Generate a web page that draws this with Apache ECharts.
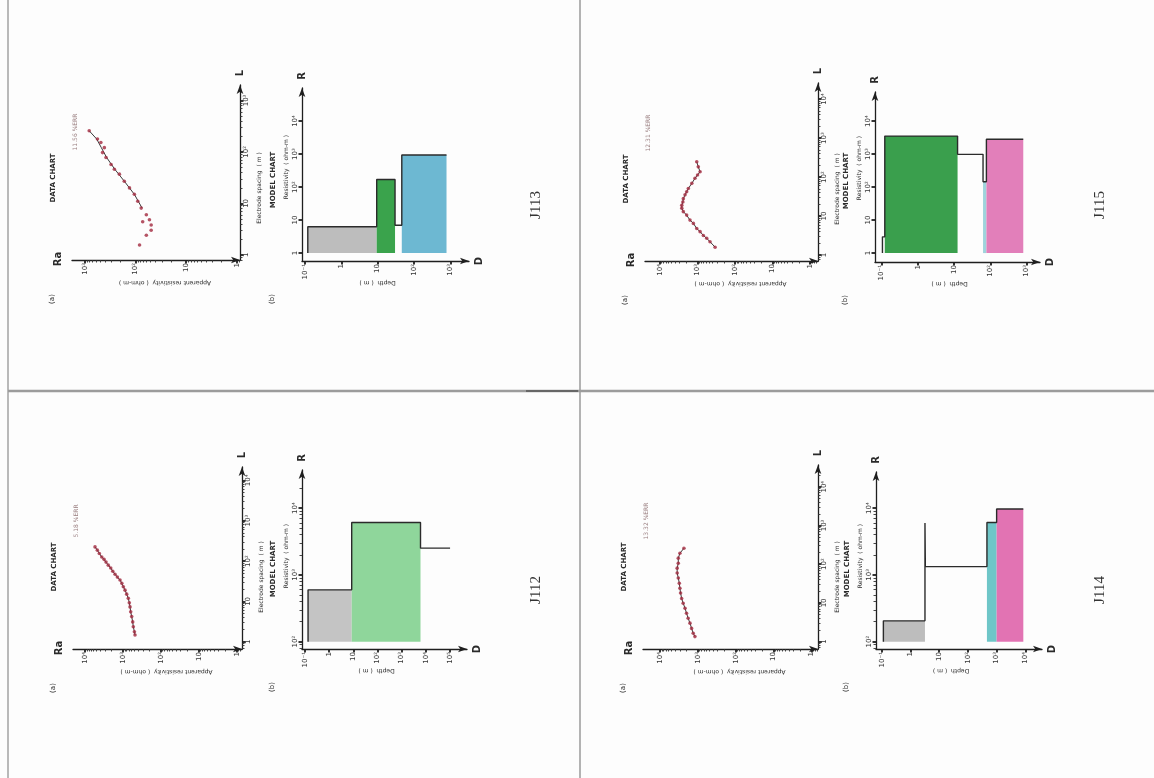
<!DOCTYPE html>
<html>
<head>
<meta charset="utf-8">
<title>Resistivity soundings J112–J115</title>
<script src="https://cdn.jsdelivr.net/npm/echarts@6/dist/echarts.min.js"></script>
<style>
  html, body { margin: 0; padding: 0; background: #fdfdfd; }
  #chart { width: 1154px; height: 778px; }
</style>
</head>
<body>
<div id="chart"></div>
<script>
// ---- Sounding data: electrode spacing L (m) and apparent resistivity Ra (ohm-m) ----
const j113SpacingL   = [1.55, 2.4, 3.0, 3.8, 4.4, 4.8, 6.0, 8.1, 11, 15, 20, 27, 37, 46, 57, 78, 97, 121, 152, 178, 257];
const j113ApparentRa = [83, 61, 49, 49, 72, 53, 61, 77, 90, 105, 131, 166, 207, 260, 302, 380, 445, 410, 480, 560, 815];
const j113FitL  = [8.1, 15, 27, 46, 78, 121, 178, 257];
const j113FitRa = [74, 105, 166, 255, 370, 470, 580, 815];

const j115SpacingL   = [1.6, 2.2, 2.7, 3.2, 4.0, 4.8, 6.5, 7.9, 10.6, 13, 16, 19, 23, 28, 35, 42, 51, 69, 93, 113, 137, 183, 247];
const j115ApparentRa = [340, 465, 570, 700, 855, 1050, 1290, 1590, 1950, 2390, 2630, 2630, 2460, 2390, 2150, 1950, 1760, 1420, 1170, 1000, 855, 955, 1050];

const j112SpacingL   = [1.47, 1.77, 2.35, 3.1, 4.2, 5.5, 7.3, 9.2, 11.9, 15.1, 19, 23, 28, 34, 40, 47, 56, 67, 79, 94, 110, 126, 154, 186, 224];
const j112ApparentRa = [482, 500, 535, 555, 590, 627, 653, 682, 725, 800, 885, 980, 1075, 1200, 1410, 1625, 1865, 2110, 2450, 2810, 3170, 3640, 4220, 4760, 5480];

const j114SpacingL   = [1.35, 1.65, 2.2, 3.0, 4.0, 5.4, 7.3, 9.8, 13, 18, 24, 32, 44, 59, 79, 106, 143, 192, 258];
const j114ApparentRa = [1200, 1330, 1470, 1620, 1810, 2000, 2190, 2450, 2690, 2870, 2990, 3100, 3300, 3530, 3530, 3300, 3300, 2990, 2340];

// ---- Layered models: layer boundaries (m), layer resistivity (ohm-m), layer fill ----
const j113LayerDepth = [0.12, 9.4, 30, 46, 780];
const j113LayerRes   = [6.3, 170, 7, 930];
const j113LayerFill  = ['#bdbdbd', '#3aa34c', null, '#6db8d2'];

const j115LayerDepth = [0.106, 0.123, 12.5, 63, 78, 810];
const j115LayerRes   = [3.1, 3500, 980, 145, 2800];
const j115LayerFill  = [null, '#3a9f4d', null, '#9fd4dc', '#e27fba'];

const j112LayerDepth = [0.135, 8.6, 6000, 100000];
const j112LayerRes   = [596, 6080, 2510];
const j112LayerFill  = ['#c4c4c4', '#8fd69b', null];

const j114LayerDepth = [0.114, 3.2, 3.3, 460, 1000, 8500];
const j114LayerRes   = [205, 6000, 1330, 6080, 9700];
const j114LayerFill  = ['#bdbdbd', null, null, '#6fc6c8', '#e273b3'];

// ---- Text ----
const panelNames = ['J113', 'J115', 'J112', 'J114'];
const errorTexts = ['11.56 %ERR', '12.31 %ERR', '5.18 %ERR', '13.32 %ERR'];

// ---- Panel frames (pixel boxes of the two log-log plots in each panel) ----
const panels = [
  { name: panelNames[0], err: errorTexts[0], nameAt: [536, 205],
    data:  { left: 72,  top: 85,  right: 240, bottom: 260, xmin: -0.06, xmax: 3.25, ymin: -0.10, ymax: 3.30 },
    model: { left: 302, top: 88,  right: 469, bottom: 261, xmin: -1.08, xmax: 3.51, ymin: -0.24, ymax: 5.00, base: 0, minorR: false },
    L: j113SpacingL, Ra: j113ApparentRa, fitL: j113FitL, fitRa: j113FitRa,
    depth: j113LayerDepth, res: j113LayerRes, fill: j113LayerFill },
  { name: panelNames[1], err: errorTexts[1], nameAt: [1100, 205],
    data:  { left: 645, top: 83,  right: 818, bottom: 261, xmin: -0.21, xmax: 4.40, ymin: -0.15, ymax: 4.41 },
    model: { left: 875, top: 92,  right: 1040, bottom: 262, xmin: -1.18, xmax: 3.37, ymin: -0.27, ymax: 4.88, base: 0, minorR: false },
    L: j115SpacingL, Ra: j115ApparentRa, fitL: j115SpacingL, fitRa: j115ApparentRa,
    depth: j115LayerDepth, res: j115LayerRes, fill: j115LayerFill },
  { name: panelNames[2], err: errorTexts[2], nameAt: [536, 590],
    data:  { left: 73,  top: 467, right: 242, bottom: 649, xmin: -0.14, xmax: 4.32, ymin: -0.18, ymax: 4.33 },
    model: { left: 302, top: 470, right: 467, bottom: 649, xmin: -1.12, xmax: 5.70, ymin: 1.89, ymax: 4.57, base: 2, minorR: true },
    L: j112SpacingL, Ra: j112ApparentRa, fitL: j112SpacingL, fitRa: j112ApparentRa,
    depth: j112LayerDepth, res: j112LayerRes, fill: j112LayerFill },
  { name: panelNames[3], err: errorTexts[3], nameAt: [1100, 590],
    data:  { left: 643, top: 465, right: 818, bottom: 649, xmin: -0.17, xmax: 4.45, ymin: -0.19, ymax: 4.56 },
    model: { left: 876, top: 472, right: 1042, bottom: 649, xmin: -1.20, xmax: 4.58, ymin: 1.89, ymax: 4.54, base: 2, minorR: true },
    L: j114SpacingL, Ra: j114ApparentRa, fitL: j114SpacingL, fitRa: j114ApparentRa,
    depth: j114LayerDepth, res: j114LayerRes, fill: j114LayerFill }
];

// ---- Helpers ----
const lg = Math.log10;
const SUP = { '-': '⁻', '0': '⁰', '1': '¹', '2': '²', '3': '³', '4': '⁴', '5': '⁵' };
function decadeLabel(v) {
  if (Math.abs(v - Math.round(v)) > 1e-6) return '';
  const n = Math.round(v);
  if (n === 0) return '1';
  if (n === 1) return '10';
  return '10' + String(n).split('').map(c => SUP[c]).join('');
}
function decadeValues(min, top) {
  const out = [];
  for (let n = Math.ceil(min - 1e-9); n <= top + 1e-9; n++) out.push(n);
  return out;
}
function minorValues(min, top) {
  const out = [];
  for (let n = Math.floor(min); n <= Math.ceil(top); n++) {
    for (let k = 2; k <= 9; k++) {
      const v = n + lg(k);
      if (v > min && v < top) out.push(v);
    }
  }
  return out;
}

const INK = '#1f1f1f';
const LABEL_FONT = 'DejaVu Sans';

const grids = [], xAxes = [], yAxes = [], series = [], graphics = [];

function logAxes(list, gridIndex, min, max, o) {
  const top = max - 0.25;
  const major = {
    type: 'value', gridIndex, min, max, inverse: !!o.inverse, position: o.position,
    splitLine: { show: false },
    axisLine: { show: true, onZero: false, symbol: ['none', 'arrow'], symbolSize: [5, 9],
                lineStyle: { color: INK, width: 1.3 } },
    axisTick: { show: true, inside: false, length: 3.5, customValues: decadeValues(min, top),
                lineStyle: { color: INK, width: 1.8 } },
    axisLabel: { show: true, customValues: decadeValues(min, top), formatter: decadeLabel,
                 rotate: 90, margin: 3, fontSize: 7, fontFamily: LABEL_FONT, color: '#333' }
  };
  const idx = list.length;
  list.push(major);
  if (o.minor) {
    list.push({
      type: 'value', gridIndex, min, max, inverse: !!o.inverse, position: o.position,
      splitLine: { show: false },
      axisLine: { show: false, onZero: false },
      axisLabel: { show: false },
      axisTick: { show: true, inside: false, length: 2.5, customValues: minorValues(min, top),
                  lineStyle: { color: '#333', width: 0.9 } }
    });
  }
  return idx;
}

function text(x, y, str, opt) {
  graphics.push({
    type: 'text', x, y, rotation: opt.rot === undefined ? Math.PI / 2 : opt.rot, silent: true,
    style: { text: str, fill: opt.color || '#2a2a2a',
             font: (opt.weight || 'normal') + ' ' + (opt.size || 7) + 'px ' + (opt.family || LABEL_FONT),
             textAlign: 'center', textVerticalAlign: 'middle' }
  });
}

panels.forEach(p => {
  // --- data chart: Ra increases to the left, L upward ---
  const d = p.data;
  const gd = grids.length;
  grids.push({ left: d.left, top: d.top, width: d.right - d.left, height: d.bottom - d.top });
  const dx = logAxes(xAxes, gd, d.xmin, d.xmax, { inverse: true, position: 'bottom', minor: true });
  const dy = logAxes(yAxes, gd, d.ymin, d.ymax, { position: 'right', minor: true });

  series.push({
    type: 'line', xAxisIndex: dx, yAxisIndex: dy, symbol: 'none', silent: true, z: 2,
    lineStyle: { color: '#3a3a3a', width: 1 },
    data: p.fitL.map((l, i) => [lg(p.fitRa[i]), lg(l)])
  });
  series.push({
    type: 'scatter', xAxisIndex: dx, yAxisIndex: dy, symbol: 'circle', symbolSize: 3.6, silent: true, z: 3,
    itemStyle: { color: '#a3293e' },
    data: p.L.map((l, i) => [lg(p.Ra[i]), lg(l)])
  });

  // --- model chart: depth D to the right, resistivity R upward ---
  const m = p.model;
  const gm = grids.length;
  grids.push({ left: m.left, top: m.top, width: m.right - m.left, height: m.bottom - m.top });
  const mx = logAxes(xAxes, gm, m.xmin, m.xmax, { position: 'bottom', minor: false });
  const my = logAxes(yAxes, gm, m.ymin, m.ymax, { position: 'left', minor: m.minorR });

  const fills = p.fill;
  const rects = [];
  p.res.forEach((r, i) => {
    if (fills[i]) rects.push([lg(p.depth[i]), lg(p.depth[i + 1]), m.base, lg(r), i]);
  });
  series.push({
    type: 'custom', xAxisIndex: mx, yAxisIndex: my, silent: true, z: 1,
    encode: { x: [0, 1], y: [2, 3] },
    data: rects,
    renderItem(params, api) {
      const a = api.coord([api.value(0), api.value(2)]);
      const b = api.coord([api.value(1), api.value(3)]);
      return { type: 'rect',
               shape: { x: a[0], y: b[1], width: b[0] - a[0], height: a[1] - b[1] },
               style: { fill: fills[api.value(4)] } };
    }
  });

  const step = [[lg(p.depth[0]), m.base]];
  p.res.forEach((r, i) => {
    step.push([lg(p.depth[i]), lg(r)]);
    step.push([lg(p.depth[i + 1]), lg(r)]);
  });
  series.push({
    type: 'line', xAxisIndex: mx, yAxisIndex: my, symbol: 'none', silent: true, z: 2,
    lineStyle: { color: '#2b2b2b', width: 1.4 },
    data: step
  });

  // --- text around the two plots ---
  text(d.left - 14, d.bottom - 1, 'Ra', { size: 10, weight: 'bold' });
  text(d.right, d.top - 12, 'L', { size: 10, weight: 'bold' });
  text(d.left - 19, d.bottom - 82, 'DATA CHART', { size: 7, weight: 'bold' });
  text(d.left + 3, d.bottom - 128, p.err, { size: 6, color: '#9a7f80' });
  text(d.left - 20, d.bottom + 39, '(a)', { size: 7 });
  text((d.left + d.right) / 2 + 9, d.bottom + 23, 'Apparent resistivity  ( ohm-m )', { size: 6, rot: Math.PI });
  text(d.right + 19, d.bottom - 72, 'Electrode spacing  ( m )', { size: 6 });

  text(m.left - 29, d.bottom - 80, 'MODEL CHART', { size: 7, weight: 'bold' });
  text(m.left - 16, d.bottom - 93, 'Resistivity  ( ohm-m )', { size: 6 });
  text(m.left, m.top - 12, 'R', { size: 10, weight: 'bold' });
  text(m.right + 10, m.bottom, 'D', { size: 10, weight: 'bold', rot: Math.PI / 2 });
  text(m.left - 30, m.bottom + 38, '(b)', { size: 7 });
  text((m.left + m.right) / 2 - 8, m.bottom + 22, 'Depth  ( m )', { size: 6, rot: Math.PI });

  text(p.nameAt[0], p.nameAt[1], p.name, { size: 15, family: 'Liberation Serif', color: '#333' });
});

// page frame: outer left edge and the cross dividing the four panels
graphics.push({ type: 'line', silent: true, shape: { x1: 8, y1: 0, x2: 8, y2: 778 },
                style: { stroke: '#a8a8a8', lineWidth: 1.6 } });
graphics.push({ type: 'line', silent: true, shape: { x1: 580, y1: 0, x2: 580, y2: 778 },
                style: { stroke: '#a0a0a0', lineWidth: 1.6 } });
graphics.push({ type: 'line', silent: true, shape: { x1: 8, y1: 391, x2: 1154, y2: 391 },
                style: { stroke: '#9c9c9c', lineWidth: 2.6 } });
graphics.push({ type: 'line', silent: true, shape: { x1: 526, y1: 391, x2: 578, y2: 391 },
                style: { stroke: '#333', lineWidth: 1 } });

const chart = echarts.init(document.getElementById('chart'), null, { renderer: 'canvas' });
chart.setOption({
  animation: false,
  backgroundColor: '#fdfdfd',
  grid: grids,
  xAxis: xAxes,
  yAxis: yAxes,
  series: series,
  graphic: graphics
});
</script>
</body>
</html>
